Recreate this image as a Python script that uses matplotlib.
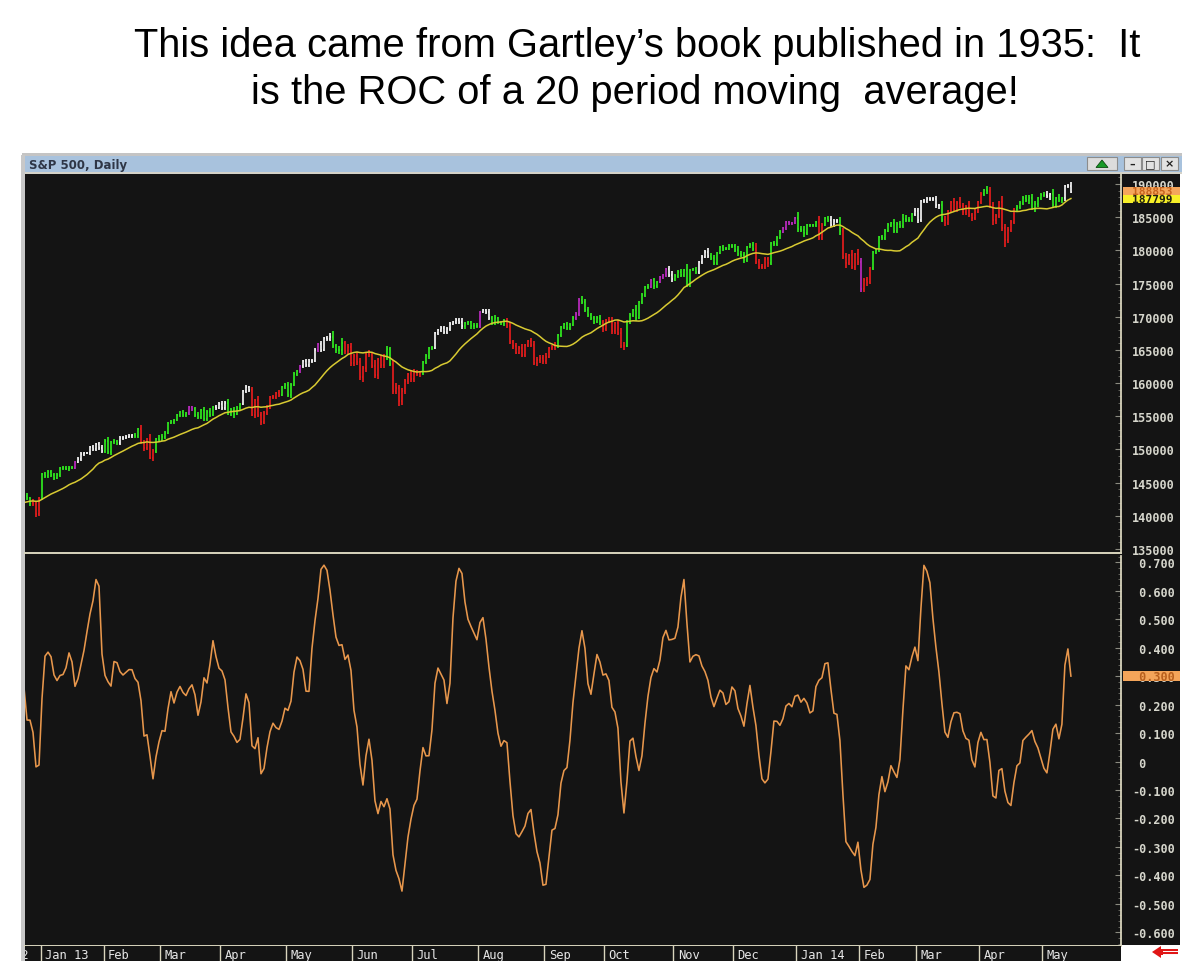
import matplotlib
matplotlib.use("Agg")
import matplotlib.pyplot as plt
import matplotlib.transforms as mtransforms
from matplotlib.collections import LineCollection
from matplotlib.patches import Rectangle, Polygon
from matplotlib.ticker import MultipleLocator
import numpy as np
import pandas as pd

W, H = 1201, 970

# S&P 500 closes Nov 21 - Dec 20 2012, only needed to start the 20 bar average
warmup_closes = [1391.03, 1409.15, 1406.29, 1398.94, 1409.93, 1415.95, 1416.18,
                 1409.46, 1407.05, 1409.28, 1413.94, 1418.07, 1418.55, 1427.84,
                 1428.48, 1419.45, 1413.58, 1430.36, 1446.79, 1435.81, 1443.69]

# S&P 500 daily closes, Dec 21 2012 - May 14 2014 (one row per month)
closes = [
    1430.15, 1426.66, 1419.83, 1418.10, 1402.43, 1426.19,
    1462.42, 1459.37, 1466.47, 1461.89, 1457.15, 1461.02, 1472.12, 1472.05, 1470.68, 1472.34, 1472.63,
    1480.94, 1485.98, 1492.56, 1494.81, 1494.82, 1502.96, 1500.18, 1507.84, 1501.96, 1498.11,
    1513.17, 1495.71, 1511.29, 1512.12, 1509.39, 1517.93, 1517.01, 1519.43, 1520.33, 1521.38,
    1519.79, 1530.94, 1511.95, 1502.42, 1515.60, 1487.85, 1496.94, 1515.99, 1514.68,
    1518.20, 1525.20, 1539.79, 1541.46, 1544.26, 1551.18, 1556.22, 1552.48, 1554.52, 1563.23,
    1560.70, 1552.10, 1548.34, 1558.71, 1545.80, 1556.89, 1551.69, 1563.77, 1562.85, 1569.19,
    1562.17, 1570.25, 1553.69, 1559.98, 1553.28, 1563.07, 1568.61, 1587.73, 1593.37, 1588.85, 1552.36,
    1574.57, 1552.01, 1541.61, 1555.25, 1562.50, 1578.78, 1578.79, 1585.16, 1582.24, 1593.61, 1597.57,
    1582.70, 1597.59, 1614.42, 1617.50, 1625.96, 1632.69, 1626.67, 1633.70, 1633.77, 1650.34, 1658.78,
    1650.47, 1667.47, 1666.29, 1669.16, 1655.35, 1650.51, 1649.60, 1660.06, 1648.36, 1654.41, 1630.74,
    1640.42, 1631.38, 1608.90, 1622.56, 1643.38, 1642.81, 1626.13, 1612.52, 1636.36, 1626.73,
    1639.04, 1651.81, 1628.93, 1588.19, 1592.43, 1573.09, 1588.03, 1603.26, 1613.20, 1606.28,
    1614.96, 1614.08, 1615.41, 1631.89, 1640.46, 1652.32, 1652.62, 1675.02, 1680.19, 1682.50, 1676.26,
    1680.91, 1689.37, 1692.09, 1695.53, 1692.39, 1685.94, 1690.25, 1691.65, 1685.33, 1685.96, 1685.73,
    1706.87, 1709.67, 1707.14, 1697.37, 1690.91, 1697.48, 1691.42, 1689.47, 1694.16, 1685.39, 1661.32,
    1655.83, 1646.06, 1652.35, 1642.80, 1656.96, 1663.50, 1656.78, 1630.48, 1634.96, 1638.17, 1632.97,
    1639.77, 1653.08, 1655.08, 1655.17, 1671.71, 1683.99, 1689.13, 1683.42, 1687.99, 1697.60,
    1704.76, 1725.52, 1722.34, 1709.91, 1701.84, 1697.42, 1692.77, 1698.67, 1691.75, 1681.55,
    1695.00, 1693.87, 1678.66, 1690.50, 1676.12, 1655.45, 1656.40, 1692.56, 1703.20, 1710.14, 1698.06,
    1721.54, 1733.15, 1744.50, 1744.66, 1754.67, 1746.38, 1752.07, 1759.77, 1762.11, 1771.95, 1763.31, 1756.54,
    1761.64, 1767.93, 1762.97, 1770.49, 1747.15, 1770.61, 1771.89, 1767.69, 1782.00, 1790.62,
    1798.18, 1791.53, 1787.87, 1781.37, 1795.85, 1804.76, 1802.48, 1802.75, 1807.23, 1805.81,
    1800.90, 1795.15, 1792.81, 1785.03, 1805.09, 1808.37, 1802.62, 1782.22, 1775.50, 1775.32, 1786.54,
    1781.00, 1810.65, 1809.60, 1818.32, 1827.99, 1833.32, 1842.02, 1841.40, 1841.07, 1848.36,
    1831.98, 1831.37, 1826.77, 1837.88, 1837.49, 1838.13, 1842.37, 1819.20, 1838.88, 1848.38, 1845.89,
    1838.70, 1843.80, 1844.86, 1828.46, 1790.29, 1781.56, 1792.50, 1774.20, 1794.19, 1782.59,
    1741.89, 1755.20, 1751.64, 1773.43, 1797.02, 1799.84, 1819.75, 1819.26, 1829.83, 1838.63,
    1840.76, 1828.75, 1839.78, 1836.25, 1847.61, 1845.12, 1845.16, 1854.29, 1859.45,
    1845.73, 1873.91, 1873.81, 1877.03, 1878.04, 1877.17, 1867.63, 1868.20, 1846.34, 1841.13, 1858.83,
    1872.25, 1860.77, 1872.01, 1866.52, 1857.44, 1865.62, 1852.56, 1849.04, 1857.62, 1872.34,
    1885.52, 1890.90, 1888.77, 1865.09, 1845.04, 1851.96, 1872.18, 1833.08, 1815.69, 1830.61, 1842.98,
    1862.31, 1864.85, 1871.89, 1879.55, 1875.39, 1878.61, 1863.40, 1869.43, 1878.33, 1883.95,
    1883.68, 1881.14, 1884.66, 1867.72, 1878.21, 1875.63, 1878.48, 1896.65, 1897.45, 1888.53,
]

# how far each bar reaches past its open/close (index points), estimated
wick_up = [
    3, 4, 2, 5, 3, 2,
    2, 3, 2, 3, 3, 4, 2, 3, 3, 2, 2, 2, 3, 3, 2, 2, 2, 4, 2, 3, 4,
    2, 5, 2, 3, 2, 2, 2, 2, 3, 2, 3, 2, 6, 3, 2, 8, 3, 2, 6,
    5, 2, 2, 3, 2, 2, 2, 3, 2, 2, 2, 4, 4, 2, 5, 2, 5, 2, 3, 2,
    4, 2, 6, 3, 4, 2, 2, 2, 3, 2, 5, 2, 6, 4, 2, 4, 2, 3, 2, 4, 2, 2,
    4, 2, 3, 2, 2, 2, 4, 2, 3, 2, 2, 4, 2, 3, 7, 9, 4, 5, 8, 4, 4, 6,
    4, 6, 6, 3, 2, 6, 4, 9, 2, 6, 5, 4, 3, 6, 8, 4, 4, 3, 2, 6,
    6, 5, 3, 2, 3, 2, 3, 2, 2, 3, 4, 3, 2, 2, 2, 2, 5, 2, 2, 2, 5, 5,
    2, 2, 2, 4, 4, 5, 2, 2, 2, 4, 7, 4, 5, 4, 7, 2, 2, 5, 6, 5, 4, 4,
    5, 2, 2, 6, 2, 2, 2, 3, 2, 4, 2, 3, 5, 5, 4, 4, 4, 3, 4, 4,
    2, 4, 5, 2, 5, 7, 6, 2, 2, 2, 7, 2, 2, 2, 4, 2, 4, 2, 2, 2, 2, 5, 5,
    3, 2, 4, 2, 9, 2, 2, 3, 2, 2, 2, 5, 4, 5, 2, 2, 3, 3, 2, 3,
    4, 5, 4, 5, 2, 2, 4, 8, 5, 4, 4, 4, 2, 4, 3, 2, 2, 2, 2, 2, 2,
    9, 4, 5, 2, 2, 2, 2, 9, 2, 2, 3, 6, 4, 2, 6, 5, 6, 2, 8, 2, 8,
    6, 3, 5, 2, 2, 2, 2, 3, 2, 2, 2, 6, 3, 4, 7, 5, 5, 2, 5,
    5, 2, 4, 4, 3, 3, 5, 2, 6, 5, 2, 2, 7, 2, 9, 5, 2, 8, 4, 6, 2,
    2, 2, 6, 7, 8, 3, 2, 9, 7, 4, 3, 2, 3, 2, 2, 4, 4, 6, 5, 2, 2,
    4, 6, 2, 8, 2, 6, 2, 2, 3, 6,
]
wick_dn = [
    4, 3, 5, 3, 4, 3,
    3, 2, 3, 4, 3, 2, 3, 3, 2, 3, 2, 2, 2, 3, 3, 2, 3, 2, 3, 3, 3,
    3, 2, 4, 3, 3, 2, 3, 2, 2, 3, 3, 2, 3, 4, 3, 2, 5, 2, 3,
    2, 3, 2, 2, 3, 2, 2, 4, 3, 2, 3, 3, 3, 2, 3, 3, 3, 2, 3, 2,
    3, 3, 2, 4, 6, 2, 3, 2, 2, 3, 2, 5, 3, 5, 4, 3, 2, 3, 3, 3, 2, 3,
    3, 5, 2, 3, 2, 3, 3, 2, 3, 2, 3, 3, 2, 3, 3, 3, 5, 6, 7, 5, 4, 5,
    5, 4, 5, 7, 6, 3, 4, 5, 6, 4, 4, 4, 3, 5, 5, 8, 6, 4, 5, 4,
    4, 4, 5, 3, 3, 4, 3, 2, 2, 3, 3, 2, 2, 2, 3, 3, 4, 5, 3, 4, 4, 3,
    2, 2, 3, 3, 3, 3, 3, 2, 3, 3, 2, 4, 3, 3, 4, 3, 3, 3, 3, 4, 5, 4,
    4, 2, 3, 5, 2, 2, 3, 3, 3, 2, 2, 4, 3, 3, 3, 3, 4, 3, 4, 4,
    3, 4, 4, 5, 4, 3, 6, 2, 3, 4, 4, 2, 2, 3, 3, 2, 5, 3, 2, 3, 2, 4, 4,
    3, 3, 3, 3, 3, 3, 2, 4, 4, 2, 2, 3, 3, 4, 3, 2, 3, 2, 2, 3,
    3, 4, 3, 4, 3, 2, 3, 3, 4, 4, 3, 6, 3, 3, 3, 2, 2, 2, 3, 3, 2,
    4, 3, 6, 3, 3, 3, 3, 3, 4, 2, 3, 3, 4, 3, 5, 4, 8, 3, 3, 4, 4,
    4, 4, 6, 3, 3, 3, 2, 3, 3, 2, 3, 3, 3, 3, 3, 3, 3, 2, 3,
    5, 3, 3, 3, 3, 3, 4, 6, 3, 4, 3, 3, 3, 3, 3, 4, 4, 3, 5, 4, 2,
    3, 4, 4, 2, 7, 6, 4, 4, 10, 5, 3, 4, 5, 3, 4, 3, 5, 3, 5, 4, 3,
    4, 3, 6, 4, 4, 3, 4, 4, 3, 2,
]

# bar colouring, as runs: g=green r=red w=white p=purple
run_codes = list("grgpwgwgrg" "pgwgwrgpwp" "wgrgrgwgpw" "grgpgrgpgp"
                 "wgwgrgpgrg" "wgrprgwgrg" "rgwgw")
run_lengths = [3, 3, 11, 1, 9, 5, 5, 2, 5, 11,
               2, 7, 4, 5, 3, 10, 6, 1, 5, 1,
               4, 4, 14, 2, 10, 4, 10, 5, 1, 3,
               5, 17, 6, 2, 7, 8, 8, 1, 2, 3,
               2, 8, 4, 15, 5, 4, 5, 7, 2, 2,
               3, 1, 6, 1, 3, 14, 9, 1, 13, 2,
               9, 10, 2, 4, 3]

month_labels = ["Dec 12", "Jan 13", "Feb", "Mar", "Apr", "May", "Jun", "Jul", "Aug",
                "Sep", "Oct", "Nov", "Dec", "Jan 14", "Feb", "Mar", "Apr", "May"]
month_sessions = [20, 21, 19, 20, 22, 22, 20, 22, 22, 20, 23, 20, 21, 21, 19, 21, 21, 10]
dec12_before_first_bar = 14

price_ticks = list(range(1350, 1901, 50))
roc_ticks = [-0.6, -0.5, -0.4, -0.3, -0.2, -0.1, 0.0, 0.1, 0.2, 0.3, 0.4, 0.5, 0.6, 0.7]

title_1 = "This idea came from Gartley\u2019s book published in 1935:  It"
title_2 = "is the ROC of a 20 period moving  average!"

assert len(closes) == len(wick_up) == len(wick_dn) == sum(run_lengths)

# ---- derived series: 20 bar SMA and its 2 bar rate of change (%)
n = len(closes)
closes_arr = np.array(closes)
opens = np.r_[warmup_closes[-1], closes_arr[:-1]]
highs = np.maximum(opens, closes_arr) + np.array(wick_up)
lows = np.minimum(opens, closes_arr) - np.array(wick_dn)
full = pd.Series(warmup_closes + closes)
sma = full.rolling(20).mean()
roc = (sma / sma.shift(2) - 1) * 100
sma = sma.values[-n:]
roc = roc.values[-n:]
bar_codes = np.repeat(run_codes, run_lengths)
month_starts = np.cumsum([0] + month_sessions[:-1]) - dec12_before_first_bar

palette = {"g": "#2ee01e", "r": "#dc1c1c", "w": "#ececec", "p": "#b42ab8"}
dark = "#141414"
cream = "#d9d5bd"
label_col = "#d6d6cc"


def px_axes(fig, x0, y0, x1, y1):
    return fig.add_axes([x0 / W, 1 - y1 / H, (x1 - x0) / W, (y1 - y0) / H])


fig = plt.figure(figsize=(W / 100, H / 100), dpi=100)
fig.patch.set_facecolor("white")

# window chrome in pixel coordinates
bg = px_axes(fig, 0, 0, W, H)
bg.set_xlim(0, W)
bg.set_ylim(H, 0)
bg.axis("off")
bg.add_patch(Rectangle((22, 154), 1160, 2.5, fc="#c4c4c4", ec="none"))
bg.add_patch(Rectangle((22, 156.5), 1160, 16, fc="#a8c2dd", ec="none"))
bg.add_patch(Rectangle((22, 172.5), 1160, 2.5, fc="#d4d2c8", ec="none"))
bg.add_patch(Rectangle((21, 156), 4, 806, fc="#c8c8c8", ec="none"))
bg.add_patch(Rectangle((25, 175), 1155, 771, fc=dark, ec="none"))
bg.text(29, 165, "S&P 500, Daily", fontsize=8.5, fontweight="bold", color="#2e3646",
        va="center", ha="left", family="DejaVu Sans")
# title bar buttons
bg.add_patch(Rectangle((1087, 158), 30, 13, fc="#dcdcdc", ec="#8c8c8c", lw=0.8))
bg.add_patch(Polygon([(1096, 168.5), (1108, 168.5), (1102, 161)], closed=True,
                     fc="#189a28", ec="#0c4a10", lw=0.6))
for bx, sym in [(1124, "\u2013"), (1142, "\u25a1"), (1161, "\u00d7")]:
    bg.add_patch(Rectangle((bx, 158), 17, 13, fc="#e2e2e2", ec="#8c8c8c", lw=0.8))
    bg.text(bx + 8.5, 164.5, sym, fontsize=8, fontweight="bold", color="#202020",
            ha="center", va="center")
# red scroll arrow under the value column
bg.add_patch(Polygon([(1152, 953), (1161, 947), (1161, 950), (1178, 950),
                      (1178, 956), (1161, 956), (1161, 959)], closed=True,
                     fc="#e01616", ec="none"))
bg.plot([1163, 1177], [952, 952], color="white", lw=0.7)
bg.plot([1163, 1177], [954.5, 954.5], color="white", lw=0.7)

fig.text(637 / W, 1 - 57 / H, title_1, fontsize=28.7, family="Liberation Sans",
         ha="center", va="baseline", color="black")
fig.text(635 / W, 1 - 104 / H, title_2, fontsize=28.7, family="Liberation Sans",
         ha="center", va="baseline", color="black")

ax_top = px_axes(fig, 25, 175, 1121, 554)
ax_bot = px_axes(fig, 25, 557, 1121, 947)
ax_date = px_axes(fig, 25, 947, 1121, 962)

x = np.arange(n)
x_lim = (0.33, 365.7)

# price bars
segs, cols = [], []
for i in range(n):
    c = palette[bar_codes[i]]
    segs.append([(x[i], lows[i]), (x[i], highs[i])])
    segs.append([(x[i] - 0.4, opens[i]), (x[i], opens[i])])
    segs.append([(x[i], closes_arr[i]), (x[i] + 0.4, closes_arr[i])])
    cols += [c, c, c]
ax_top.add_collection(LineCollection(segs, colors=cols, linewidths=1.3, capstyle="butt", zorder=2))
ax_top.plot(x, sma, color="#d8ca32", lw=1.1, zorder=3)
ax_top.set_ylim(1344, 1915)
ax_top.set_yticks(price_ticks)
ax_top.set_yticklabels([f"{v * 100:.0f}" for v in price_ticks])
ax_top.yaxis.set_minor_locator(MultipleLocator(10))

ax_bot.plot(x, roc, color="#e8974c", lw=1.15, zorder=3)
ax_bot.set_ylim(-0.648, 0.722)
ax_bot.set_yticks(roc_ticks)
ax_bot.set_yticklabels([" 0" if v == 0 else (f"{v:.3f}" if v < 0 else f" {v:.3f}") for v in roc_ticks])
ax_bot.yaxis.set_minor_locator(MultipleLocator(0.02))

for ax in (ax_top, ax_bot):
    ax.set_facecolor(dark)
    ax.set_xlim(*x_lim)
    for s in ("left", "top"):
        ax.spines[s].set_visible(False)
    ax.spines["right"].set_color(cream)
    ax.spines["right"].set_linewidth(1.3)
    ax.spines["bottom"].set_color(cream)
    ax.spines["bottom"].set_linewidth(1.4)
    ax.yaxis.tick_right()
    ax.tick_params(axis="x", which="both", bottom=False, labelbottom=False)
    ax.tick_params(axis="y", which="major", direction="in", length=4, width=0.8,
                   color="#8a8a80", labelcolor=label_col, labelsize=8.5, pad=8,
                   labelfontfamily="DejaVu Sans Mono")
    ax.tick_params(axis="y", which="minor", direction="in", length=2, width=0.6, color="#6e6e66")
    for lab in ax.get_yticklabels():
        lab.set_fontweight("bold")

# current value boxes in the value column
blend_top = mtransforms.blended_transform_factory(bg.transData, ax_top.transData)
blend_bot = mtransforms.blended_transform_factory(bg.transData, ax_bot.transData)
ax_top.add_patch(Rectangle((1123, closes_arr[-1] - 6.4), 57, 12.8, transform=blend_top,
                           fc="#f4a65c", ec="none", clip_on=False, zorder=6))
ax_top.text(1132, closes_arr[-1] + 0.8, f"{closes_arr[-1] * 100:.0f}", transform=blend_top,
            fontsize=8, fontweight="bold", family="DejaVu Sans Mono", color="#c8641e",
            va="center", ha="left", clip_on=False, zorder=7)
ax_top.add_patch(Rectangle((1123, sma[-1] - 6.0), 57, 12.0, transform=blend_top,
                           fc="#f8f028", ec="none", clip_on=False, zorder=8))
ax_top.text(1132, sma[-1] - 0.5, f"{sma[-1] * 100:.0f}", transform=blend_top,
            fontsize=8, fontweight="bold", family="DejaVu Sans Mono", color="#202010",
            va="center", ha="left", clip_on=False, zorder=9)
ax_bot.add_patch(Rectangle((1123, roc[-1] - 0.0175), 57, 0.035, transform=blend_bot,
                           fc="#f4a55a", ec="none", clip_on=False, zorder=6))
ax_bot.text(1132, roc[-1], f" {roc[-1]:.3f}", transform=blend_bot,
            fontsize=8.5, fontweight="bold", family="DejaVu Sans Mono", color="#b8601e",
            va="center", ha="left", clip_on=False, zorder=7)

# month strip
ax_date.set_facecolor(dark)
ax_date.set_xlim(*x_lim)
ax_date.set_ylim(0, 1)
for s in ax_date.spines.values():
    s.set_visible(False)
ax_date.set_xticks([])
ax_date.set_yticks([])
for start, lab in zip(month_starts, month_labels):
    ax_date.axvline(start - 0.5, color=cream, lw=1.0)
    ax_date.text(start + 0.9, 0.45, lab, fontsize=8.7, family="DejaVu Sans Mono",
                 color="#e6e6e6", ha="left", va="center", clip_on=True)

fig.savefig("out.png", dpi=100)
